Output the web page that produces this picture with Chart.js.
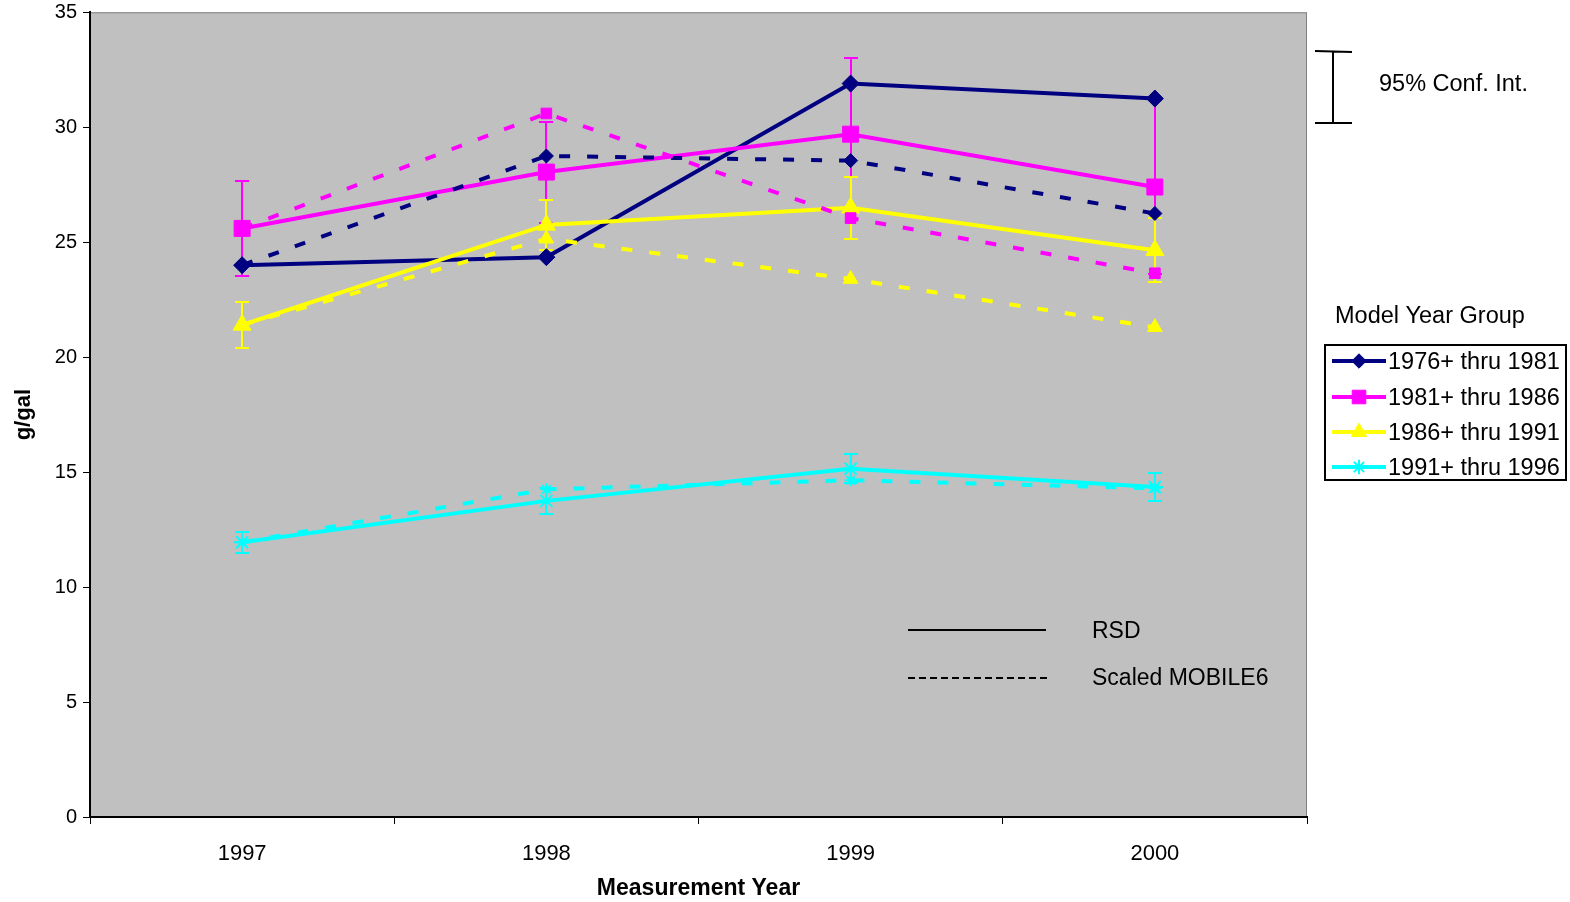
<!DOCTYPE html>
<html>
<head>
<meta charset="utf-8">
<title>g/gal by Measurement Year</title>
<script src="https://cdn.jsdelivr.net/npm/chart.js@4/dist/chart.umd.min.js"></script>
<style>
  html, body { margin: 0; padding: 0; background: #ffffff; }
  #wrap { width: 1570px; height: 902px; position: relative; }
</style>
</head>
<body>
<div id="wrap"><canvas id="c" width="1570" height="902"></canvas></div>
<script>
// Measurement years (x categories)
const years = ['1997', '1998', '1999', '2000'];

// Model year groups
const groupNames = ['1976+ thru 1981', '1981+ thru 1986', '1986+ thru 1991', '1991+ thru 1996'];
const groupColors = ['#000080', '#FF00FF', '#FFFF00', '#00FFFF'];
const groupMarkers = ['rectRot', 'rect', 'triangle', 'star'];

// RSD measurements, g/gal
const rsd7681 = [24.0, 24.35, 31.9, 31.25];
const rsd8186 = [25.6, 28.05, 29.7, 27.4];
const rsd8691 = [21.4, 25.75, 26.5, 24.65];
const rsd9196 = [11.95, 13.75, 15.15, 14.35];

// Scaled MOBILE6 estimates, g/gal
const mob7681 = [24.0, 28.75, 28.55, 26.25];
const mob8186 = [25.6, 30.6, 26.05, 23.65];
const mob8691 = [21.4, 25.15, 23.4, 21.3];
const mob9196 = [11.95, 14.25, 14.65, 14.3];

// 95% confidence half-widths for the RSD series (none drawn for 1976+ thru 1981)
const ci7681 = null;
const ci8186 = [2.05, 2.2, 3.3, 3.8];
const ci8691 = [1.0, 1.1, 1.35, 1.4];
const ci9196 = [0.45, 0.57, 0.63, 0.6];

// Y axis
const yMin = 0, yMax = 35, yStep = 5;

const rsdSeries = [rsd7681, rsd8186, rsd8691, rsd9196];
const mobSeries = [mob7681, mob8186, mob8691, mob9196];
const ciSeries = [ci7681, ci8186, ci8691, ci9196];

const FONT = '"Liberation Sans", Arial, Helvetica, sans-serif';
const PLOT_BG = '#C0C0C0';

const rsdRadius = [8.5, 11.3, 10.4, 8.5];
const mobRadius = [7, 7.5, 8.5, 6];

const datasets = [];
rsdSeries.forEach((vals, i) => {
  datasets.push({
    label: groupNames[i] + ' RSD',
    data: vals,
    borderColor: groupColors[i],
    backgroundColor: groupColors[i],
    borderWidth: 4,
    pointStyle: groupMarkers[i],
    pointRadius: rsdRadius[i],
    pointBorderWidth: i === 3 ? 2 : 1,
    pointBorderColor: groupColors[i],
    pointBackgroundColor: groupColors[i],
    tension: 0,
    order: 20 - i,
    ciValues: ciSeries[i]
  });
});
mobSeries.forEach((vals, i) => {
  datasets.push({
    label: groupNames[i] + ' Scaled MOBILE6',
    data: vals,
    borderColor: groupColors[i],
    backgroundColor: groupColors[i],
    borderWidth: 4,
    borderDash: [11, 17],
    pointStyle: groupMarkers[i],
    pointRadius: mobRadius[i],
    pointBorderWidth: i === 3 ? 2 : 1,
    pointBorderColor: groupColors[i],
    pointBackgroundColor: groupColors[i],
    tension: 0,
    order: 10 - i
  });
});

function markerAt(ctx, style, color, x, y, r, bw) {
  ctx.save();
  ctx.fillStyle = color;
  ctx.strokeStyle = color;
  ctx.lineWidth = bw;
  if (Chart.helpers && Chart.helpers.drawPoint) {
    Chart.helpers.drawPoint(ctx, { pointStyle: style, radius: r, borderWidth: bw, rotation: 0 }, x, y);
  }
  ctx.restore();
}

// Gray plot area background
const plotBackground = {
  id: 'plotBackground',
  beforeDraw(chart) {
    const { ctx, chartArea: a } = chart;
    ctx.save();
    ctx.fillStyle = PLOT_BG;
    ctx.fillRect(a.left, a.top, a.right - a.left, a.bottom - a.top);
    ctx.strokeStyle = '#808080';
    ctx.lineWidth = 1;
    ctx.strokeRect(a.left + 0.5, a.top + 0.5, a.right - a.left - 1, a.bottom - a.top - 1);
    ctx.restore();
  }
};

// Confidence interval whiskers, drawn beneath the lines
const ciBars = {
  id: 'ciBars',
  beforeDatasetsDraw(chart) {
    const { ctx } = chart;
    const xs = chart.scales.x, ys = chart.scales.y;
    const cap = 7;
    ctx.save();
    chart.data.datasets.forEach((ds) => {
      if (!ds.ciValues) return;
      ctx.strokeStyle = ds.borderColor;
      ctx.lineWidth = 2;
      ds.data.forEach((v, j) => {
        const e = ds.ciValues[j];
        const x = Math.round(xs.getPixelForValue(j));
        const yTop = Math.round(ys.getPixelForValue(v + e));
        const yBot = Math.round(ys.getPixelForValue(v - e));
        ctx.beginPath();
        ctx.moveTo(x, yTop); ctx.lineTo(x, yBot);
        ctx.moveTo(x - cap, yTop); ctx.lineTo(x + cap, yTop);
        ctx.moveTo(x - cap, yBot); ctx.lineTo(x + cap, yBot);
        ctx.stroke();
      });
    });
    ctx.restore();
  }
};

// Key boxes and notes around the plot
const annotations = {
  id: 'annotations',
  afterDraw(chart) {
    const { ctx } = chart;
    ctx.save();
    ctx.fillStyle = '#000';
    ctx.strokeStyle = '#000';
    ctx.textBaseline = 'middle';
    ctx.textAlign = 'left';
    ctx.font = '23px ' + FONT;

    // line style key inside the plot
    ctx.lineWidth = 2;
    ctx.beginPath();
    ctx.moveTo(908, 630); ctx.lineTo(1046, 630);
    ctx.stroke();
    ctx.setLineDash([7, 4]);
    ctx.beginPath();
    ctx.moveTo(908, 678); ctx.lineTo(1048, 678);
    ctx.stroke();
    ctx.setLineDash([]);
    ctx.fillText('RSD', 1092, 632);
    ctx.fillText('Scaled MOBILE6', 1092, 679);

    // confidence interval symbol
    ctx.lineWidth = 2;
    ctx.beginPath();
    ctx.moveTo(1333, 51); ctx.lineTo(1333, 123);
    ctx.moveTo(1315, 51); ctx.lineTo(1352, 52);
    ctx.moveTo(1315, 123); ctx.lineTo(1352, 123);
    ctx.stroke();
    ctx.font = '23.5px ' + FONT;
    ctx.fillText('95% Conf. Int.', 1379, 85);

    // model year group key
    ctx.fillText('Model Year Group', 1335, 317);
    ctx.font = '23.5px ' + FONT;
    ctx.lineWidth = 2;
    ctx.strokeRect(1325, 345, 241, 135);
    const rows = [361, 397, 432, 467];
    rows.forEach((ry, i) => {
      ctx.strokeStyle = groupColors[i];
      ctx.lineWidth = 4;
      ctx.beginPath();
      ctx.moveTo(1332, ry); ctx.lineTo(1386, ry);
      ctx.stroke();
      markerAt(ctx, groupMarkers[i], groupColors[i], 1359, ry, rsdRadius[i] * 0.85, i === 3 ? 2 : 1);
      ctx.fillStyle = '#000';
      ctx.fillText(groupNames[i], 1388, ry + 2);
    });
    ctx.restore();
  }
};

new Chart(document.getElementById('c'), {
  type: 'line',
  data: { labels: years, datasets: datasets },
  plugins: [plotBackground, ciBars, annotations],
  options: {
    responsive: false,
    animation: false,
    events: [],
    layout: { padding: { top: 12, right: 263, left: 0, bottom: 0 } },
    plugins: {
      legend: { display: false },
      tooltip: { enabled: false }
    },
    scales: {
      x: {
        type: 'category',
        offset: true,
        afterFit(scale) { scale.height = 85; scale.paddingLeft = 0; scale.paddingRight = 0; },
        grid: {
          offset: true,
          drawOnChartArea: false,
          drawTicks: true,
          tickLength: 7,
          color: '#000',
          lineWidth: 1
        },
        border: { display: true, color: '#000', width: 2 },
        ticks: {
          color: '#000',
          font: { family: FONT, size: 22 },
          padding: 17,
          maxRotation: 0
        },
        title: {
          display: true,
          text: 'Measurement Year',
          color: '#000',
          font: { family: FONT, size: 23, weight: 'bold' },
          padding: { top: 5, bottom: 0 }
        }
      },
      y: {
        min: yMin,
        max: yMax,
        afterFit(scale) { scale.width = 90; scale.paddingTop = 0; scale.paddingBottom = 0; },
        grid: {
          drawOnChartArea: false,
          drawTicks: true,
          tickLength: 7,
          color: '#000',
          lineWidth: 1
        },
        border: { display: true, color: '#000', width: 2 },
        ticks: {
          stepSize: yStep,
          color: '#000',
          font: { family: FONT, size: 20 },
          padding: 6
        },
        title: {
          display: true,
          text: 'g/gal',
          color: '#000',
          font: { family: FONT, size: 22, weight: 'bold' },
          padding: { top: 11, bottom: 0 }
        }
      }
    }
  }
});
</script>
</body>
</html>
